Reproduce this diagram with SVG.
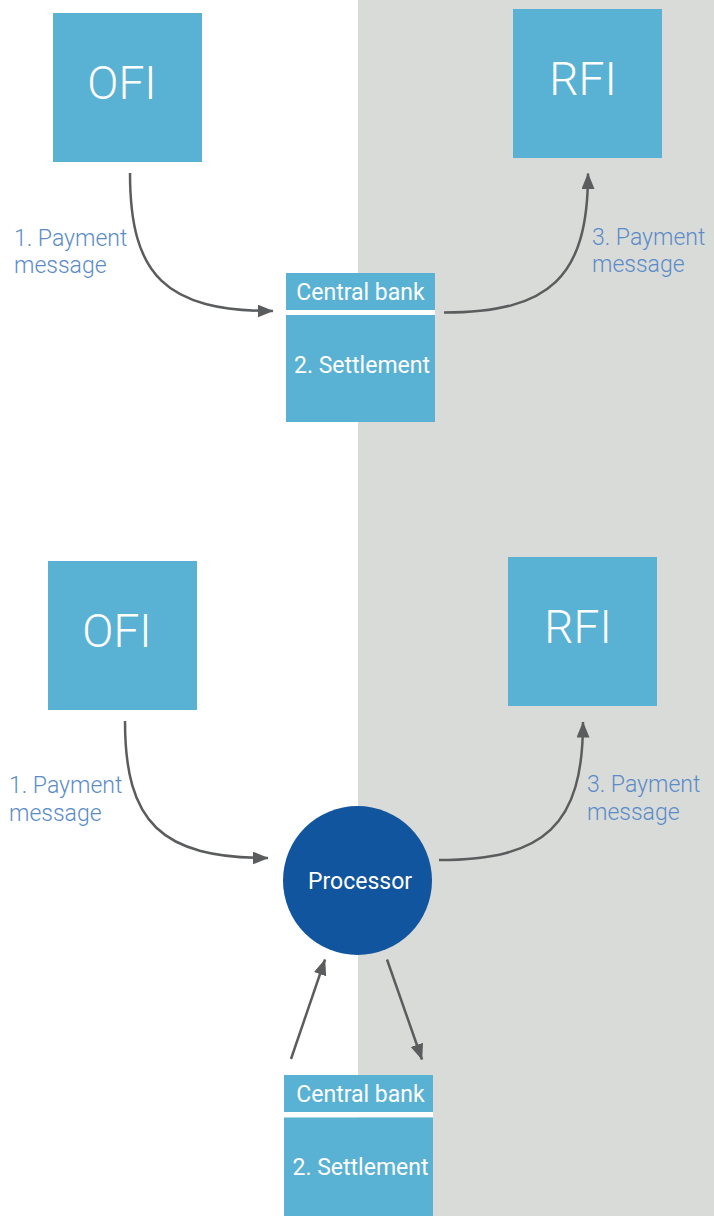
<svg xmlns="http://www.w3.org/2000/svg" width="714" height="1216" viewBox="0 0 714 1216">
<style>
.box{fill:#59b1d4}
.gap{fill:#ffffff}
.big{font-family:"Roboto Light",Roboto,"Liberation Sans",sans-serif;font-weight:300;font-size:46px;fill:#ffffff;text-anchor:middle}
.cb{font-family:Roboto,"Liberation Sans",sans-serif;font-weight:400;font-size:23px;fill:#ffffff;text-anchor:middle}
.lbl{font-family:"Roboto Light",Roboto,"Liberation Sans",sans-serif;font-weight:300;font-size:23px;fill:#5b8cc8}
.arr{fill:none;stroke:#5a5c5e;stroke-width:2.5;marker-end:url(#ah)}
</style>
<defs>
<marker id="ah" markerUnits="userSpaceOnUse" markerWidth="17" markerHeight="14" refX="15.5" refY="6.5" orient="auto">
<path d="M0,0 L16,6.5 L0,13 z" fill="#5a5c5e"/>
</marker>
</defs>
<rect x="0" y="0" width="714" height="1216" fill="#ffffff"/>
<rect x="358" y="0" width="356" height="1216" fill="#d9dbd8"/>

<g id="ofi-top"><rect class="box" x="53" y="13" width="149" height="149"/><text class="big" x="122" y="99">OFI</text></g>
<g id="rfi-top"><rect class="box" x="513" y="9" width="149" height="149"/><text class="big" x="583" y="95">RFI</text></g>
<g id="centralbank-top">
<rect class="box" x="286" y="273" width="149" height="37"/>
<rect class="gap" x="286" y="310" width="149" height="5"/>
<rect class="box" x="286" y="315" width="149" height="107"/>
<text class="cb" x="360.5" y="299.5">Central bank</text>
<text class="cb" x="362" y="373">2. Settlement</text>
</g>
<g id="label-top-1"><text class="lbl" x="14" y="246">1. Payment</text><text class="lbl" x="14" y="273">message</text></g>
<g id="label-top-3"><text class="lbl" x="592" y="245">3. Payment</text><text class="lbl" x="592" y="272">message</text></g>

<g id="ofi-bottom"><rect class="box" x="48" y="561" width="149" height="149"/><text class="big" x="117" y="647">OFI</text></g>
<g id="rfi-bottom"><rect class="box" x="508" y="557" width="149" height="149"/><text class="big" x="578" y="642.5">RFI</text></g>
<g id="processor"><circle cx="357.5" cy="880.5" r="74.5" fill="#11559e"/><text class="cb" x="360" y="889">Processor</text></g>
<g id="centralbank-bottom">
<rect class="box" x="284" y="1075" width="149" height="37"/>
<rect class="gap" x="284" y="1112" width="149" height="5.5"/>
<rect class="box" x="284" y="1117.5" width="149" height="99"/>
<text class="cb" x="360.5" y="1102">Central bank</text>
<text class="cb" x="360.5" y="1175">2. Settlement</text>
</g>
<g id="label-bottom-1"><text class="lbl" x="9" y="793">1. Payment</text><text class="lbl" x="9" y="821">message</text></g>
<g id="label-bottom-3"><text class="lbl" x="587" y="792">3. Payment</text><text class="lbl" x="587" y="820">message</text></g>

<g id="connectors">
<path class="arr" d="M130,173 C130,276 166,311 273,311"/>
<path class="arr" d="M444,312.5 C550,312.5 588,277 588,173.5"/>
<path class="arr" d="M125,721 C125,823 161,858 268,858"/>
<path class="arr" d="M439,860 C545,860 583,825 583,722"/>
<path class="arr" d="M291,1059 L325,959.5"/>
<path class="arr" d="M387,959.5 L422,1059.5"/>
</g>
</svg>
